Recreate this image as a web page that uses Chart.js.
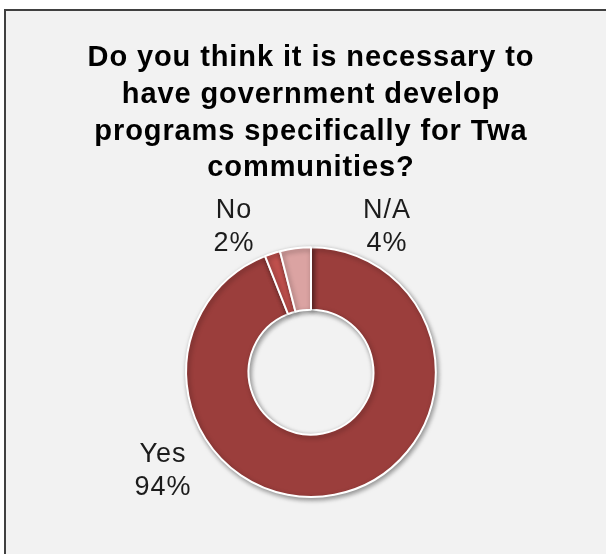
<!DOCTYPE html>
<html>
<head>
<meta charset="utf-8">
<script src="https://cdn.jsdelivr.net/npm/chart.js@4"></script>
<style>
  html, body { margin: 0; padding: 0; background: #fff; overflow: hidden; }
  #frame {
    position: absolute; left: 4px; top: 9px; width: 700px; height: 700px;
    border: 2px solid #404040; background: #f2f2f2;
  }
  #wrap { position: absolute; left: 0; top: 0; width: 606px; height: 554px; }
</style>
</head>
<body>
<div id="frame"></div>
<div id="wrap"><canvas id="myChart" width="606" height="554"></canvas></div>
<script>
const titleLines = [
    "Do you think it is necessary to",
    "have government develop",
    "programs specifically for Twa",
    "communities?"
];
const categories = ["Yes", "No", "N/A"];
const shares = [94, 2, 4];
const sliceColors = ["#9b3e3c", "#c0504d", "#dba3a2"];

// where each category's label sits, relative to the ring centre
const labelOffsets = [[-148, 99], [-77, -145], [76, -145]];

const ringShadow = {
    id: "ringShadow",
    beforeDatasetsDraw(chart) {
        const c = chart.ctx;
        c.save();
        c.shadowColor = "rgba(0,0,0,0.4)";
        c.shadowBlur = 5;
        c.shadowOffsetX = 1.5;
        c.shadowOffsetY = 2;
    },
    afterDatasetsDraw(chart) {
        chart.ctx.restore();
    }
};

const sliceLabels = {
    id: "sliceLabels",
    afterDatasetsDraw(chart) {
        const c = chart.ctx;
        const arcs = chart.getDatasetMeta(0).data;
        c.save();
        c.font = "27px 'Liberation Sans', Arial, sans-serif";
        c.fillStyle = "#1c1c1c";
        c.textAlign = "center";
        c.textBaseline = "middle";
        c.letterSpacing = "1px";
        arcs.forEach((arc, i) => {
            const x = arc.x + labelOffsets[i][0];
            const y = arc.y + labelOffsets[i][1];
            c.fillText(categories[i], x, y - 16.5);
            c.fillText(shares[i] + "%", x, y + 16.5);
        });
        c.restore();
    }
};

const spacedTitle = {
    id: "spacedTitle",
    beforeDraw(chart) {
        chart.ctx.letterSpacing = "0.9px";
    }
};

const ctx = document.getElementById("myChart").getContext("2d");
const myChart = new Chart(ctx, {
    type: "doughnut",
    data: {
        labels: categories,
        datasets: [
            {
                data: shares,
                backgroundColor: sliceColors,
                borderColor: "#ffffff",
                borderWidth: 2,
            },
        ],
    },
    options: {
        responsive: false,
        animation: false,
        cutout: "50%",
        layout: { padding: { left: 16, right: 0, top: 0, bottom: 56 } },
        plugins: {
            legend: { display: false },
            tooltip: { enabled: false },
            title: {
                display: true,
                text: titleLines,
                color: "#000000",
                font: { family: "'Liberation Sans', Arial, sans-serif", size: 29, weight: "bold", lineHeight: 1.266 },
                padding: { top: 40, bottom: 59.5 },
            },
        },
    },
    plugins: [spacedTitle, ringShadow, sliceLabels],
});
</script>
</body>
</html>
